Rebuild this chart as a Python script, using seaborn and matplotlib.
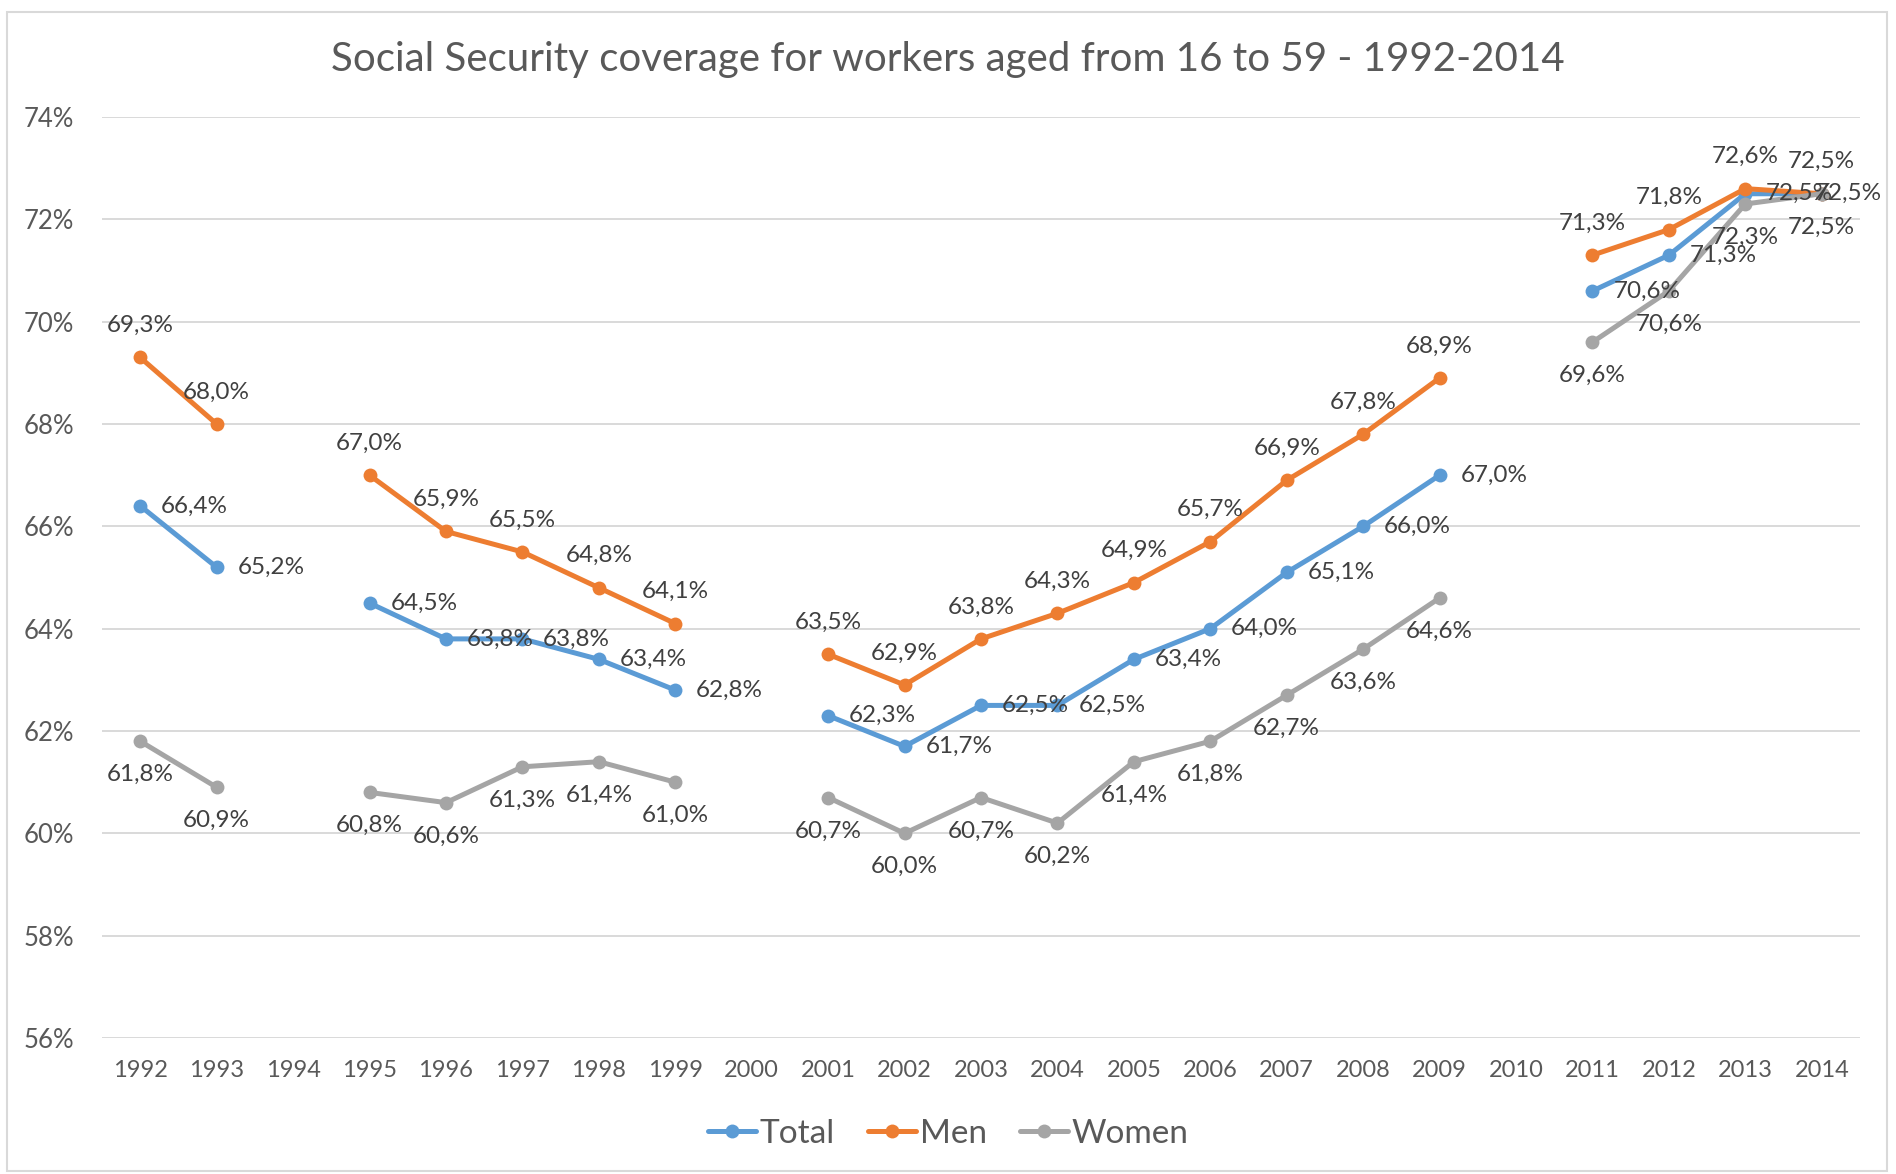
import numpy as np
import pandas as pd
import matplotlib
matplotlib.use("Agg")
import matplotlib.pyplot as plt
from matplotlib.lines import Line2D
from matplotlib.patches import Rectangle
import seaborn as sns

# Survey years on the category axis (no survey in 1994, 2000 and 2010)
years = ["1992", "1993", "1994", "1995", "1996", "1997", "1998", "1999", "2000",
         "2001", "2002", "2003", "2004", "2005", "2006", "2007", "2008", "2009",
         "2010", "2011", "2012", "2013", "2014"]
nan = np.nan
total = [66.4, 65.2, nan, 64.5, 63.8, 63.8, 63.4, 62.8, nan,
         62.3, 61.7, 62.5, 62.5, 63.4, 64.0, 65.1, 66.0, 67.0,
         nan, 70.6, 71.3, 72.5, 72.5]
men = [69.3, 68.0, nan, 67.0, 65.9, 65.5, 64.8, 64.1, nan,
       63.5, 62.9, 63.8, 64.3, 64.9, 65.7, 66.9, 67.8, 68.9,
       nan, 71.3, 71.8, 72.6, 72.5]
women = [61.8, 60.9, nan, 60.8, 60.6, 61.3, 61.4, 61.0, nan,
         60.7, 60.0, 60.7, 60.2, 61.4, 61.8, 62.7, 63.6, 64.6,
         nan, 69.6, 70.6, 72.3, 72.5]
series_names = ["Total", "Men", "Women"]
y_ticks = [56, 58, 60, 62, 64, 66, 68, 70, 72, 74]

colors = {"Total": "#5B9BD5", "Men": "#ED7D31", "Women": "#A5A5A5"}
text_color = "#595959"
label_color = "#404040"

sns.set_theme(style="white")
plt.rcParams["font.family"] = ["Lato", "DejaVu Sans"]

# Long-form table; each unbroken run of years gets its own unit so gaps stay open
frames = []
for name, vals in zip(series_names, [total, men, women]):
    v = pd.Series(vals, dtype=float)
    seg = v.isna().cumsum()
    frames.append(pd.DataFrame({"pos": np.arange(len(years)), "value": v,
                                "series": name, "segment": f"{name}-" + seg.astype(str)}))
df = pd.concat(frames, ignore_index=True).dropna(subset=["value"])

W, H = 1896, 1174
fig = plt.figure(figsize=(W / 100, H / 100), dpi=100)
ax = fig.add_axes([102 / W, 1 - 1038 / H, (1860 - 102) / W, (1038 - 117) / H])

sns.lineplot(data=df, x="pos", y="value", hue="series", units="segment",
             estimator=None, palette=colors, hue_order=series_names,
             marker="o", markersize=10, markeredgewidth=0, linewidth=3.6,
             legend=False, ax=ax, zorder=3)

# Data labels: Total to the right, Men above, Women below
offsets = {"Total": ((15, 0), "left", "center"),
           "Men": ((0, 23), "center", "center"),
           "Women": ((0, -24), "center", "center")}
labels = []
for name in series_names:
    sub = df[df["series"] == name]
    (dx, dy), ha, va = offsets[name]
    for p, val in zip(sub["pos"], sub["value"]):
        labels.append(ax.annotate(f"{val:.1f}%".replace(".", ","), (p, val), xytext=(dx, dy),
                                  textcoords="offset points", ha=ha, va=va, fontsize=17.5,
                                  color=label_color, annotation_clip=False, zorder=5))

ax.set_xlim(-0.5, len(years) - 0.5)
ax.set_ylim(56, 74)
ax.set_xticks(np.arange(len(years)))
ax.set_xticklabels(years)
ax.set_yticks(y_ticks)
ax.set_yticklabels([f"{t}%" for t in y_ticks])
ax.tick_params(axis="both", length=0, labelcolor=text_color)
ax.tick_params(axis="x", pad=16, labelsize=17)
ax.tick_params(axis="y", pad=20, labelsize=18.5)
ax.set_xlabel("")
ax.set_ylabel("")
ax.grid(axis="y", color="#D9D9D9", linewidth=1.4)
ax.grid(axis="x", visible=False)
for s in ax.spines.values():
    s.set_visible(False)

fig.text(0.5, 1 - 59 / H, "Social Security coverage for workers aged from 16 to 59 - 1992-2014",
         ha="center", va="center", fontsize=29, color=text_color)

handles = [Line2D([0], [0], color=colors[n], linewidth=3.6, marker="o",
                  markersize=10, markeredgewidth=0) for n in series_names]
fig.legend(handles, series_names, loc="center", bbox_to_anchor=(0.5, 1 - 1134 / H),
           ncol=3, frameon=False, fontsize=24, handlelength=1.45, handletextpad=0.1,
           columnspacing=1.0, labelcolor=text_color)

# Chart area border
fig.patches.append(Rectangle((7 / W, 3 / H), 1880 / W, 1159 / H,
                             transform=fig.transFigure, fill=False,
                             edgecolor="#D9D9D9", linewidth=1.5))

# Keep data labels inside the chart area, nudging any that spill past the right border
fig.canvas.draw()
renderer = fig.canvas.get_renderer()
for lab in labels:
    bb = lab.get_window_extent(renderer)
    overflow = bb.x1 - (W - 14)
    if overflow > 0:
        x, y = lab.get_position()
        lab.set_position((x - overflow * 72 / 100, y))

fig.savefig("out.png", dpi=100)
